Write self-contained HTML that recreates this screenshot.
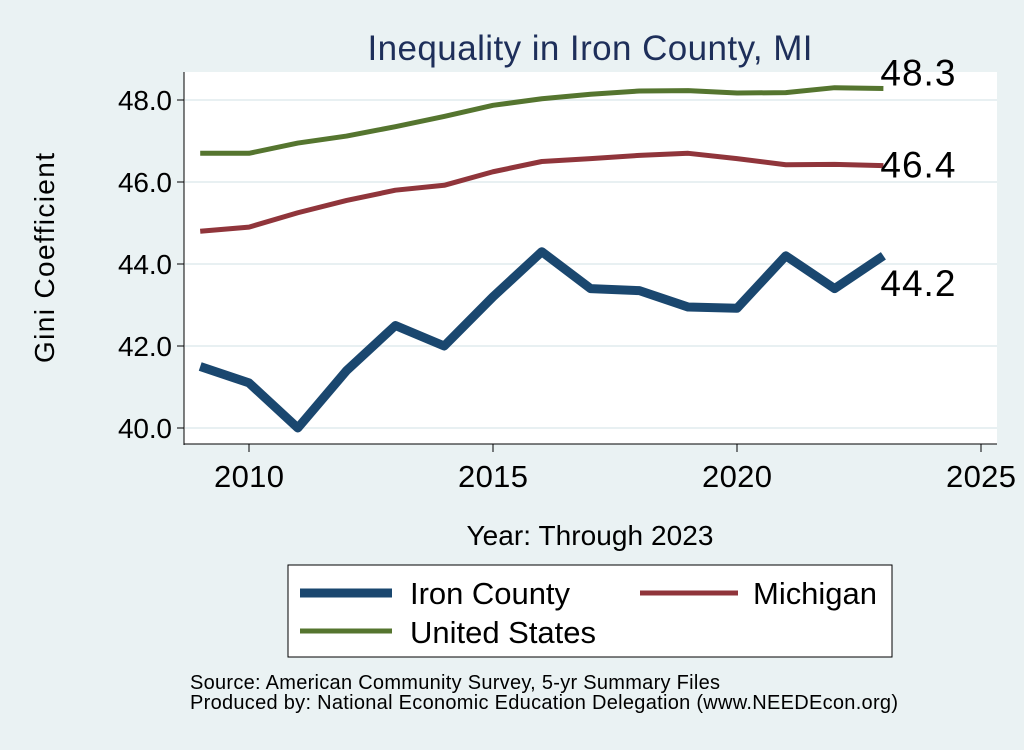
<!DOCTYPE html>
<html><head><meta charset="utf-8"><style>
body{margin:0;background:#eaf2f3;}
svg text{font-family:"Liberation Sans",sans-serif;}
</style></head><body>
<svg width="1024" height="745">
<rect width="1024" height="745" fill="#eaf2f3"/>
<rect x="184" y="72" width="813" height="372" fill="#fff"/>
<text x="590" y="60" font-size="35" fill="#1e2f5a" text-anchor="middle" textLength="445">Inequality in Iron County, MI</text>
<g id="grid"></g><g id="axes"></g><g id="series"></g>
<text x="590" y="545" font-size="28" text-anchor="middle" textLength="247">Year: Through 2023</text>
<text transform="translate(54,258) rotate(-90)" font-size="28" text-anchor="middle" textLength="210">Gini Coefficient</text>
<g>
<rect x="288" y="565" width="604" height="92" fill="#fff" stroke="#000" stroke-width="1"/>
<line x1="300" y1="593" x2="392" y2="593" stroke="#1a476f" stroke-width="9"/>
<text x="410" y="604" font-size="31" textLength="160">Iron County</text>
<line x1="640" y1="593" x2="738" y2="593" stroke="#90353b" stroke-width="5"/>
<text x="753" y="604" font-size="31" textLength="124">Michigan</text>
<line x1="300" y1="631" x2="392" y2="631" stroke="#55752f" stroke-width="5"/>
<text x="410" y="643" font-size="31" textLength="186">United States</text>
</g>
<text x="190" y="689" font-size="20" textLength="530">Source: American Community Survey, 5-yr Summary Files</text>
<text x="190" y="709" font-size="20" textLength="708">Produced by: National Economic Education Delegation (www.NEEDEcon.org)</text>
</svg>
<script>
const years=[2009,2010,2011,2012,2013,2014,2015,2016,2017,2018,2019,2020,2021,2022,2023];
const iron=[41.5,41.1,40.0,41.4,42.5,42.0,43.2,44.3,43.4,43.35,42.95,42.92,44.2,43.4,44.2];
const michigan=[44.8,44.9,45.25,45.55,45.8,45.92,46.25,46.5,46.57,46.65,46.7,46.57,46.42,46.43,46.4];
const us=[46.7,46.7,46.95,47.12,47.35,47.6,47.87,48.03,48.14,48.22,48.23,48.17,48.18,48.3,48.28];
const xTicks=[2010,2015,2020,2025];
const yTicks=[40,42,44,46,48];
const NS='http://www.w3.org/2000/svg';
const X=v=>249+(v-2010)*48.8;
const Y=v=>428-(v-40)*41;
function mk(t,a,p){const e=document.createElementNS(NS,t);for(const k in a)e.setAttribute(k,a[k]);p.appendChild(e);return e;}
const g=document.getElementById('grid'),ax=document.getElementById('axes'),s=document.getElementById('series');
yTicks.forEach(v=>{
 const l=mk('line',{x1:185,x2:997,y1:Y(v),y2:Y(v),stroke:'#e8f0f2','stroke-width':2},g);
 
 
 mk('line',{x1:177,x2:184,y1:Y(v),y2:Y(v),stroke:'#000'},ax);
 const t=mk('text',{x:172,y:Y(v)+10,'font-size':28,'text-anchor':'end',textLength:54},ax);t.textContent=v.toFixed(1);
 
 
});
mk('line',{x1:184,x2:184,y1:72,y2:445,stroke:'#000'},ax);
mk('line',{x1:184,x2:997,y1:444,y2:444,stroke:'#000'},ax);
xTicks.forEach(v=>{
 mk('line',{x1:X(v),x2:X(v),y1:444,y2:452,stroke:'#000'},ax);
 const t=mk('text',{x:X(v),y:487,'font-size':31,'text-anchor':'middle',textLength:70},ax);t.textContent=v;
 
 
});
function line(d,c,w,name){
 const p=mk('polyline',{points:d.map((v,i)=>X(years[i])+','+Y(v)).join(' '),fill:'none',stroke:c,'stroke-width':w,'stroke-linejoin':'round'},s);
 
 
}
line(us,'#55752f',5,'line-united-states');
line(michigan,'#90353b',5,'line-michigan');
line(iron,'#1a476f',9,'line-iron-county');
const n=years.length-1;
[[us,-15,'label-us'],[michigan,0,'label-michigan'],[iron,28,'label-iron']].forEach(([d,dy,nm])=>{
 const t=mk('text',{x:X(years[n])-3,y:Y(d[n])+12+dy,'font-size':37,textLength:75},s);t.textContent=d[n].toFixed(1);
 
 
});
</script>
</body></html>
